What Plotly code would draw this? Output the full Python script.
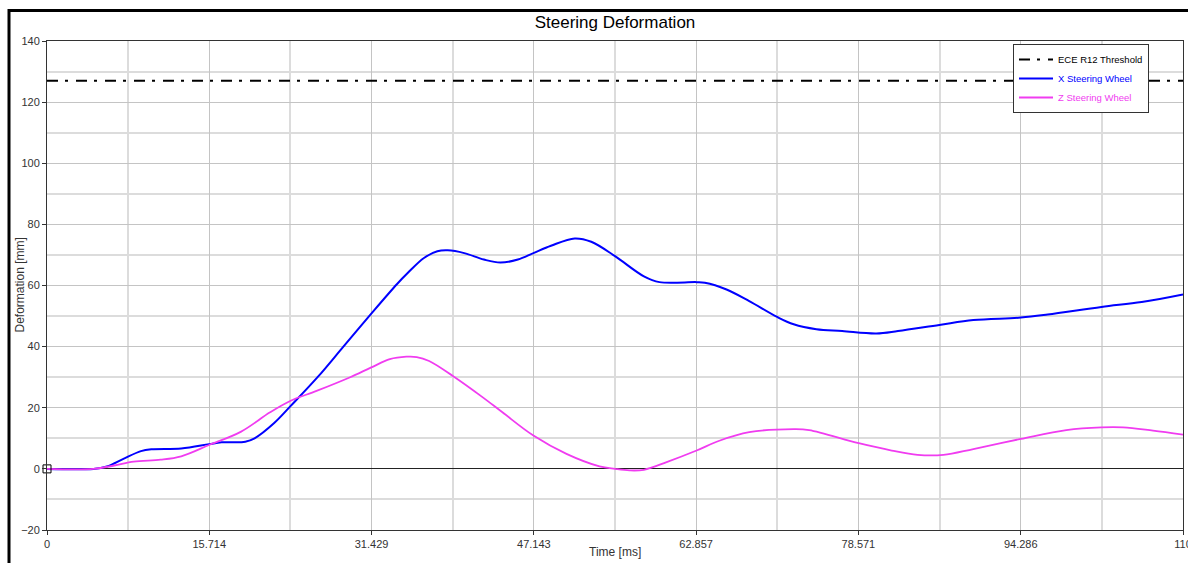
import plotly.graph_objects as go

# ── Data ──────────────────────────────────────────────────────────────────────
THRESHOLD = 127.0
thr_t = [0, 110]
thr_y = [THRESHOLD, THRESHOLD]

x_t = [0, 4.5, 5.8, 7.4, 9.1, 10.1, 13, 15.7, 16.9, 19.2, 20.1, 22, 23.6, 26.2,
       28.7, 31.4, 33.9, 34.9, 36.5, 37.8, 38.8, 40.4, 42.3, 43.9, 45.6, 47.1,
       48.8, 51.1, 52.7, 55, 57.8, 59.3, 62.9, 63.7, 65.8, 68, 70.7, 72.3, 74.5,
       77, 80.3, 82.4, 86.4, 89.7, 94.3, 96.9, 102.1, 106, 110]
x_def = [0, 0, 0.8, 3.3, 5.8, 6.4, 6.7, 8.1, 8.7, 8.9, 10, 15, 20.6, 30,
         40, 50.8, 60.5, 64, 69, 71.2, 71.5, 70.6, 68.5, 67.5, 68.5, 70.6,
         73, 75.4, 74.3, 69.6, 63, 61.1, 61.1, 60.9, 58.7, 54.9, 49.7, 47.3, 45.7,
         45.1, 44.3, 45.1, 47.1, 48.7, 49.5, 50.5, 53, 54.6, 57.1]

z_t = [0, 4.5, 6.5, 8.4, 11, 13, 15.7, 18.8, 21.6, 23.6, 26.1, 29.3, 31.4, 33.2,
       34.8, 35.8, 37, 39.3, 42.2, 44.1, 47.1, 50.3, 53.5, 55, 56.4, 57.8, 60,
       62.9, 65.1, 68, 72.3, 73.8, 78.6, 81.8, 84.3, 86.8, 89.7, 94.3, 98.7,
       102.1, 104.2, 107.1, 110]
z_def = [0, 0, 1.1, 2.4, 3, 4.1, 7.8, 12.2, 18.5, 22.3, 25.5, 29.9, 33.2, 35.9,
         36.7, 36.6, 35.3, 30.4, 23.4, 18.5, 10.9, 4.9, 0.8, 0, -0.5, -0.3, 2.2,
         6, 9.2, 12, 13, 12.7, 8.4, 6, 4.6, 4.6, 6.5, 9.8, 12.7,
         13.6, 13.6, 12.5, 11.2]

cursor_t = [0]
cursor_y = [0]

x_ticks = [0, 15.714, 31.429, 47.143, 62.857, 78.571, 94.286, 110]
x_ticktext = ["0", "15.714", "31.429", "47.143", "62.857", "78.571", "94.286", "110"]
x_minor = [7.857, 23.571, 39.286, 55.0, 70.714, 86.429, 102.143]

BLUE = "#0000ff"
MAGENTA = "#f03cf0"
FONT = "Liberation Sans, Arial, sans-serif"

# plot area in pixels: x 47..1183, y 41..530
W, H = 1188, 563
L, R, T, B = 47, 5, 41, 33
PW, PH = W - L - R, H - T - B

fig = go.Figure()

fig.add_trace(go.Scatter(
    x=thr_t, y=thr_y, mode="lines", name="ECE R12 Threshold",
    line=dict(color="black", width=2, dash="11px,7px,3px,8px"),
))
fig.add_trace(go.Scatter(
    x=x_t, y=x_def, mode="lines",
    name=f"<span style='color:{BLUE}'>X Steering Wheel</span>",
    line=dict(color=BLUE, width=2, shape="spline", smoothing=1.0),
))
fig.add_trace(go.Scatter(
    x=z_t, y=z_def, mode="lines",
    name=f"<span style='color:{MAGENTA}'>Z Steering Wheel</span>",
    line=dict(color=MAGENTA, width=1.8, shape="spline", smoothing=1.0),
))
fig.add_trace(go.Scatter(
    x=cursor_t, y=cursor_y, mode="markers", showlegend=False, cliponaxis=False,
    marker=dict(symbol="square-open", size=8, color="black", line=dict(width=1)),
    hoverinfo="skip",
))

axis_common = dict(
    showline=True, linecolor="#333", linewidth=1, mirror=True,
    ticks="outside", ticklen=4, tickcolor="#333",
    tickfont=dict(size=11, color="#333", family=FONT),
    gridcolor="#c4c4c4", gridwidth=1, automargin=False,
)

fig.update_xaxes(
    range=[0, 110], tickvals=x_ticks, ticktext=x_ticktext,
    ticklabeloverflow="allow", zeroline=False,
    minor=dict(tickvals=x_minor, showgrid=True, gridcolor="#dcdcdc", gridwidth=2, ticks=""),
    **axis_common,
)
fig.update_yaxes(
    range=[-20, 140], dtick=20, tick0=0, ticklabeloverflow="allow",
    zeroline=True, zerolinecolor="#222", zerolinewidth=1,
    minor=dict(dtick=10, showgrid=True, gridcolor="#dcdcdc", gridwidth=2, ticks=""),
    **axis_common,
)

title_font = dict(size=12, color="#333", family=FONT)
fig.update_layout(
    width=W, height=H,
    margin=dict(l=L, r=R, t=T, b=B, pad=0, autoexpand=False),
    paper_bgcolor="white", plot_bgcolor="white",
    font=dict(family=FONT, color="black"),
    title=dict(text="Steering Deformation", x=(L + PW / 2) / W, xanchor="center",
               y=1 - 22 / H, yanchor="middle", font=dict(size=17, color="black", family=FONT)),
    legend=dict(
        x=(1013 - L) / PW, y=(H - B - 44) / PH, xanchor="left", yanchor="top",
        bgcolor="white", bordercolor="#333", borderwidth=1,
        font=dict(size=9.5, color="black", family=FONT),
        itemwidth=34, tracegroupgap=0,
    ),
    showlegend=True,
    annotations=[
        dict(text="Time [ms]", xref="paper", yref="paper", x=0.5, y=(H - B - 552) / PH,
             xanchor="center", yanchor="middle", showarrow=False, font=title_font),
        dict(text="Deformation [mm]", xref="paper", yref="paper", x=(19 - L) / PW, y=0.5,
             xanchor="center", yanchor="middle", textangle=-90, showarrow=False, font=title_font),
    ],
    shapes=[dict(
        type="rect", xref="paper", yref="paper",
        x0=(9 - L) / PW, x1=1.1, y0=-0.3, y1=(H - B - 10.5) / PH,
        line=dict(color="black", width=3), fillcolor="rgba(0,0,0,0)", layer="above",
    )],
)

# page body has a default 8px margin; drop it so the figure sits at the window origin
fig.write_html(
    "out.html",
    config={"displayModeBar": False},
    post_script="document.body.style.margin='0';document.body.style.overflow='hidden';",
)
